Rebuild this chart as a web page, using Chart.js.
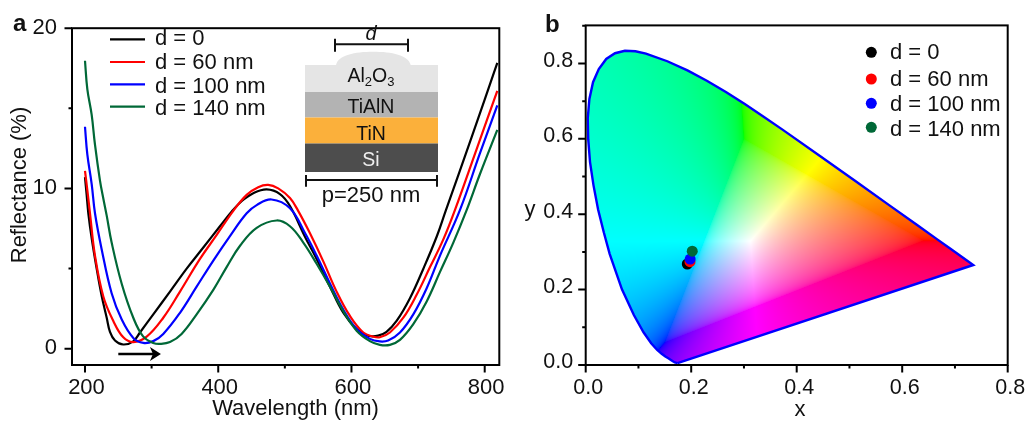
<!DOCTYPE html>
<html>
<head>
<meta charset="utf-8">
<style>
  html, body { margin: 0; padding: 0; background: #fff; }
  #page { position: relative; width: 1033px; height: 421px; overflow: hidden; }
  canvas { position: absolute; top: 0; }
  #chartA { left: 0; }
  #chartB { left: 516px; }
  #inset { position: absolute; left: 0; top: 0; pointer-events: none; font-family: "Liberation Sans", Arial, sans-serif; fill: #111; }
</style>
<script src="https://cdn.jsdelivr.net/npm/chart.js@4"></script>
</head>
<body>
<div id="page">
  <canvas id="chartA" width="516" height="421"></canvas>
  <canvas id="chartB" width="517" height="421"></canvas>
  <svg id="inset" width="1033" height="421">
    <text x="13" y="31" font-size="24" font-weight="bold">a</text>
    <text x="545" y="32" font-size="24" font-weight="bold">b</text>
    <text transform="translate(26,185) rotate(-90)" text-anchor="middle" font-size="22">Reflectance (%)</text>
    <text x="295.5" y="415" text-anchor="middle" font-size="22">Wavelength (nm)</text>
    <text x="530" y="216" text-anchor="middle" font-size="22">y</text>
    <text x="800" y="416" text-anchor="middle" font-size="22">x</text>
    <path d="M336,65 C338,55 355,51.7 373,51.7 C392,51.7 408,55 410.7,65 Z" fill="#e5e5e5"/>
    <rect x="305" y="65" width="133" height="27" fill="#e5e5e5"/>
    <rect x="305" y="92" width="133" height="25.5" fill="#b3b3b3"/>
    <rect x="305" y="117.5" width="133" height="26" fill="#fbb03b"/>
    <rect x="305" y="143.5" width="133" height="28.5" fill="#4d4d4d"/>
    <g stroke="#111" stroke-width="2" fill="none">
      <path d="M335,44.3 H408 M335,38.7 V51.7 M408,38.7 V51.7"/>
      <path d="M306,180 H437 M306,175 V186.7 M437,175 V186.7"/>
    </g>
    <g text-anchor="middle">
      <text x="371" y="40" font-size="20" font-style="italic">d</text>
      <text x="371" y="82" font-size="19.5">Al<tspan font-size="13" dy="4">2</tspan><tspan dy="-4">O</tspan><tspan font-size="13" dy="4">3</tspan></text>
      <text x="371" y="113" font-size="19.5">TiAlN</text>
      <text x="371" y="139.5" font-size="19.5">TiN</text>
      <text x="371" y="166" font-size="19.5" fill="#eee">Si</text>
      <text x="371" y="202" font-size="22">p=250 nm</text>
    </g>
  </svg>
</div>
<script>
// panel a: reflectance curves
const wl0 = [200, 202.5, 205, 210, 217.5, 225, 232.6, 237.5, 245, 257.5, 272.5, 282.5, 302.5, 327.6, 352.6, 377.6, 402.6, 420, 435, 452.6, 472.7, 492.7, 507.7, 530, 547.7, 567.7, 587.7, 607.7, 625, 640, 652.6, 667.7, 687.8, 707.9, 728, 741.4, 780.4, 818.9];
const refl0 = [10.7, 9.6, 8.45, 6.9, 5.0, 3.3, 1.93, 1.05, 0.51, 0.26, 0.46, 1.01, 2.14, 3.56, 4.99, 6.31, 7.64, 8.55, 9.2, 9.7, 9.94, 9.65, 8.9, 7.0, 5.6, 3.87, 2.24, 1.22, 0.81, 0.81, 1.05, 1.73, 3.15, 4.99, 7.0, 8.6, 13.2, 17.83];

const wl60 = [200, 203.5, 207.5, 215, 227.5, 242.5, 257.5, 272.5, 292.6, 317.5, 342.6, 372.6, 397.7, 422.6, 442.7, 460, 475, 490, 507.7, 520, 537.7, 557.7, 577.7, 597.7, 617.7, 632.7, 642.6, 657.7, 677.8, 697.8, 717.9, 737.9, 755.4, 787.9, 818.9];
const refl60 = [11.1, 9.9, 8.45, 5.81, 3.26, 1.73, 0.71, 0.41, 0.75, 1.93, 3.56, 5.6, 7.1, 8.6, 9.6, 10.08, 10.22, 10.0, 9.4, 8.6, 7.2, 5.45, 3.56, 2.04, 1.01, 0.75, 0.71, 1.01, 1.93, 3.36, 5.09, 6.82, 8.66, 12.46, 16.09];

const wl100 = [200, 203.5, 210, 215, 225, 240, 255, 272.5, 287.5, 302.5, 317.5, 342.6, 367.6, 392.6, 417.6, 442.7, 457.7, 480, 507.7, 530, 547.7, 567.7, 587.7, 607.7, 627.6, 642.6, 655, 672.8, 692.8, 712.9, 732.9, 762.9, 792.9, 818.9];
const refl100 = [13.85, 12.12, 10.29, 8.45, 6.21, 3.46, 1.83, 0.67, 0.36, 0.47, 0.92, 2.24, 3.87, 5.5, 7.03, 8.45, 8.96, 9.31, 8.76, 7.23, 5.81, 4.07, 2.44, 1.22, 0.61, 0.45, 0.51, 1.01, 2.14, 3.77, 5.81, 8.66, 12.2, 15.18];

const wl140 = [200, 203.5, 210, 215, 222.5, 227.5, 232.6, 240, 255, 272.5, 287.5, 302.5, 312.5, 327.6, 345, 367.6, 392.6, 412.6, 432.7, 457.7, 487.7, 507.7, 527.7, 547.7, 567.7, 587.7, 607.7, 627.6, 642.6, 657.7, 672.8, 692.8, 712.9, 732.9, 752.9, 773, 792.9, 818.9];
const refl140 = [17.97, 16.2, 14.6, 12.73, 10.49, 9.37, 8.3, 6.62, 4.07, 1.93, 0.75, 0.36, 0.3, 0.41, 0.92, 2.14, 3.67, 5.09, 6.42, 7.54, 8.0, 7.64, 6.62, 5.3, 3.87, 2.34, 1.12, 0.47, 0.24, 0.24, 0.55, 1.53, 2.95, 4.79, 6.62, 8.66, 10.9, 13.65];

const seriesNames = ["d = 0", "d = 60 nm", "d = 100 nm", "d = 140 nm"];
const seriesColors = ["#000000", "#ff0000", "#0000ff", "#006837"];

const aXTicks = [200, 300, 400, 500, 600, 700, 800];
const aXLabels = [200, 400, 600, 800];
const aYTicks = [0, 5, 10, 15, 20];
const aYLabels = [0, 10, 20];
const arrowWl = [250, 314];
const arrowRefl = [-0.33, -0.33];

// panel b: chromaticity points and the spectral locus
const pointX = [0.1926, 0.1977, 0.198, 0.202];
const pointY = [0.268, 0.274, 0.281, 0.302];
const locusX = [0.1741, 0.1689, 0.1644, 0.1566, 0.151, 0.144, 0.1355, 0.1241, 0.1096, 0.0913, 0.0687, 0.0454, 0.0344, 0.0235, 0.0148, 0.0082, 0.0048, 0.0039, 0.007, 0.0139, 0.0248, 0.0389, 0.0556, 0.0743, 0.0943, 0.1142, 0.1547, 0.1929, 0.2296, 0.2658, 0.3016, 0.3373, 0.3731, 0.4441, 0.5125, 0.5752, 0.627, 0.6658, 0.6915, 0.726, 0.7347, 0.1741];
const locusY = [0.005, 0.0069, 0.0109, 0.0177, 0.0227, 0.0297, 0.0399, 0.0578, 0.0868, 0.1327, 0.2007, 0.295, 0.3514, 0.4127, 0.4766, 0.5384, 0.5985, 0.6548, 0.706, 0.7502, 0.7851, 0.812, 0.8272, 0.8338, 0.8323, 0.8262, 0.8059, 0.7816, 0.7543, 0.7243, 0.6923, 0.6589, 0.6245, 0.5547, 0.4866, 0.4242, 0.3725, 0.334, 0.3083, 0.274, 0.2653, 0.005];

const bXTicks = [0, 0.1, 0.2, 0.3, 0.4, 0.5, 0.6, 0.7, 0.8];
const bXLabels = [0, 0.2, 0.4, 0.6, 0.8];
const bYTicks = [0, 0.1, 0.2, 0.3, 0.4, 0.5, 0.6, 0.7, 0.8, 0.9];
const bYLabels = [0, 0.2, 0.4, 0.6, 0.8];

Chart.defaults.font.family = '"Liberation Sans", Arial, sans-serif';
Chart.defaults.font.size = 22;
Chart.defaults.color = "#111";

function pairs(xs, ys) {
  return xs.map((x, i) => ({ x: x, y: ys[i] }));
}

function isLabelled(list, v) {
  return list.some(l => Math.abs(l - v) < 1e-6);
}

// frame and tick marks: long for labelled ticks, short for the rest
const framePlugin = {
  id: "frame",
  afterDraw(chart, args, opts) {
    const ctx = chart.ctx;
    const a = chart.chartArea;
    const sx = chart.scales.x;
    const sy = chart.scales.y;
    ctx.save();
    ctx.strokeStyle = "#000";
    ctx.lineWidth = 2;
    ctx.strokeRect(a.left, a.top, a.right - a.left, a.bottom - a.top);
    ctx.beginPath();
    sx.ticks.forEach(t => {
      const px = sx.getPixelForValue(t.value);
      const len = isLabelled(opts.xLabels, t.value) ? 7.5 : 3.5;
      ctx.moveTo(px, a.bottom);
      ctx.lineTo(px, a.bottom + len);
    });
    sy.ticks.forEach(t => {
      const py = sy.getPixelForValue(t.value);
      const len = isLabelled(opts.yLabels, t.value) ? 7.5 : 3.5;
      ctx.moveTo(a.left, py);
      ctx.lineTo(a.left - len, py);
    });
    ctx.stroke();
    ctx.restore();
  }
};

// hand drawn legend inside the plot area
const insideLegend = {
  id: "insideLegend",
  afterDraw(chart, args, opts) {
    const ctx = chart.ctx;
    ctx.save();
    ctx.font = '22px "Liberation Sans", Arial, sans-serif';
    ctx.textBaseline = "alphabetic";
    seriesNames.forEach((name, i) => {
      const y = opts.rows[i];
      ctx.fillStyle = ctx.strokeStyle = seriesColors[i];
      if (opts.dots) {
        ctx.beginPath();
        ctx.arc(opts.markX, y, 5.5, 0, Math.PI * 2);
        ctx.fill();
      } else {
        ctx.lineWidth = 2.2;
        ctx.beginPath();
        ctx.moveTo(opts.markX, y);
        ctx.lineTo(opts.markX + 35, y);
        ctx.stroke();
      }
      ctx.fillStyle = "#111";
      ctx.fillText(name, opts.textX, opts.baselines[i]);
    });
    ctx.restore();
  }
};

const shiftArrow = {
  id: "shiftArrow",
  afterDatasetsDraw(chart) {
    const ctx = chart.ctx;
    const x0 = chart.scales.x.getPixelForValue(arrowWl[0]);
    const x1 = chart.scales.x.getPixelForValue(arrowWl[1]);
    const y = chart.scales.y.getPixelForValue(arrowRefl[0]);
    ctx.save();
    ctx.strokeStyle = ctx.fillStyle = "#000";
    ctx.lineWidth = 2.5;
    ctx.beginPath();
    ctx.moveTo(x0, y);
    ctx.lineTo(x1 - 6, y);
    ctx.stroke();
    ctx.beginPath();
    ctx.moveTo(x1, y);
    ctx.lineTo(x1 - 11, y - 7);
    ctx.lineTo(x1 - 8, y);
    ctx.lineTo(x1 - 11, y + 7);
    ctx.closePath();
    ctx.fill();
    ctx.restore();
  }
};

// colour of a chromaticity: sRGB primaries, out of gamut colours get white added until
// no channel is negative, then scaled to full brightness
function chromaColor(x, y) {
  const X = x / y;
  const Z = (1 - x - y) / y;
  const r = 3.2406 * X - 1.5372 - 0.4986 * Z;
  const g = -0.9689 * X + 1.8758 + 0.0415 * Z;
  const b = 0.0557 * X - 0.204 + 1.057 * Z;
  const w = Math.max(0, -Math.min(r, g, b));
  const m = Math.max(r, g, b) + w;
  return [r, g, b].map(c => 255 * Math.pow((c + w) / m, 1 / 2.2));
}

// gamut background clipped to the locus dataset
const gamutPlugin = {
  id: "gamut",
  beforeDatasetsDraw(chart) {
    const ctx = chart.ctx;
    const a = chart.chartArea;
    const sx = chart.scales.x;
    const sy = chart.scales.y;
    const left = Math.floor(a.left);
    const top = Math.floor(a.top);
    const w = Math.ceil(a.right - a.left);
    const h = Math.ceil(a.bottom - a.top);
    const off = document.createElement("canvas");
    off.width = w;
    off.height = h;
    const octx = off.getContext("2d");
    const img = octx.createImageData(w, h);
    for (let j = 0; j < h; j++) {
      for (let i = 0; i < w; i++) {
        const cx = Math.max(sx.getValueForPixel(left + i + 0.5), 0.001);
        const cy = Math.max(sy.getValueForPixel(top + j + 0.5), 0.001);
        const c = chromaColor(cx, cy);
        const k = (j * w + i) * 4;
        img.data[k] = c[0];
        img.data[k + 1] = c[1];
        img.data[k + 2] = c[2];
        img.data[k + 3] = 255;
      }
    }
    octx.putImageData(img, 0, 0);
    ctx.save();
    ctx.beginPath();
    locusX.forEach((x, i) => {
      const px = sx.getPixelForValue(x);
      const py = sy.getPixelForValue(locusY[i]);
      if (i === 0) ctx.moveTo(px, py); else ctx.lineTo(px, py);
    });
    ctx.closePath();
    ctx.clip();
    ctx.drawImage(off, left, top);
    ctx.restore();
  }
};

function lineSet(i, xs, ys) {
  return {
    label: seriesNames[i],
    data: pairs(xs, ys),
    showLine: true,
    borderColor: seriesColors[i],
    borderWidth: 2.2,
    pointRadius: 0,
    tension: 0.4,
    order: 4 - i,
    clip: false
  };
}

function axis(cfg) {
  return {
    type: "linear",
    min: cfg.min,
    max: cfg.max,
    grid: { display: false, drawTicks: false },
    border: { display: false },
    ticks: {
      padding: cfg.padding,
      labelOffset: cfg.labelOffset,
      autoSkip: false,
      maxRotation: 0,
      font: { size: cfg.fontSize },
      callback: v => isLabelled(cfg.labels, v) ? cfg.format(v) : ""
    },
    afterBuildTicks(scale) {
      scale.ticks = cfg.ticks.map(v => ({ value: v }));
    },
    afterFit(scale) {
      if (cfg.width) scale.width = cfg.width;
      if (cfg.height) scale.height = cfg.height;
    }
  };
}

new Chart(document.getElementById("chartA"), {
  type: "scatter",
  data: {
    datasets: [
      lineSet(0, wl0, refl0),
      lineSet(1, wl60, refl60),
      lineSet(2, wl100, refl100),
      lineSet(3, wl140, refl140)
    ]
  },
  options: {
    responsive: false,
    animation: false,
    layout: { padding: { left: 0, right: 16.7, top: 21, bottom: 0 } },
    plugins: {
      legend: { display: false },
      tooltip: { enabled: false },
      frame: { xLabels: aXLabels, yLabels: aYLabels },
      insideLegend: { rows: [39.3, 62, 84.3, 106.7], baselines: [45, 68.5, 92.5, 115], markX: 110, textX: 155, dots: false }
    },
    scales: {
      x: axis({ min: 180.5, max: 821.9, ticks: aXTicks, labels: aXLabels, format: v => String(v), padding: 10, labelOffset: 1.5, fontSize: 22, height: 56 }),
      y: axis({ min: -1.02, max: 20, ticks: aYTicks, labels: aYLabels, format: v => String(v), padding: 15, labelOffset: -0.5, fontSize: 22, width: 72 })
    }
  },
  plugins: [framePlugin, insideLegend, shiftArrow]
});

const pointSets = seriesNames.map((name, i) => ({
  label: name,
  data: [{ x: pointX[i], y: pointY[i] }],
  pointRadius: 5.5,
  pointBackgroundColor: seriesColors[i],
  pointBorderWidth: 0,
  order: 4 - i
}));

new Chart(document.getElementById("chartB"), {
  type: "scatter",
  data: {
    datasets: [
      { label: "locus", data: pairs(locusX, locusY), showLine: true, borderColor: "#0000ff", borderWidth: 2.4, pointRadius: 0, order: 10, clip: false }
    ].concat(pointSets)
  },
  options: {
    responsive: false,
    animation: false,
    layout: { padding: { left: 0, right: 25.3, top: 20.7, bottom: 0 } },
    plugins: {
      legend: { display: false },
      tooltip: { enabled: false },
      frame: { xLabels: bXLabels, yLabels: bYLabels },
      insideLegend: { rows: [52.3, 79, 103.3, 127.3], baselines: [59, 85.7, 110.7, 135.7], markX: 355.3, textX: 374, dots: true }
    },
    scales: {
      x: axis({ min: 0, max: 0.8, ticks: bXTicks, labels: bXLabels, format: v => v.toFixed(1), padding: 10, labelOffset: 2.5, fontSize: 21.5, height: 56 }),
      y: axis({ min: 0, max: 0.901, ticks: bYTicks, labels: bYLabels, format: v => v.toFixed(1), padding: 12.5, labelOffset: -2.5, fontSize: 21.5, width: 69.7 })
    }
  },
  plugins: [gamutPlugin, framePlugin, insideLegend]
});
</script>
</body>
</html>
